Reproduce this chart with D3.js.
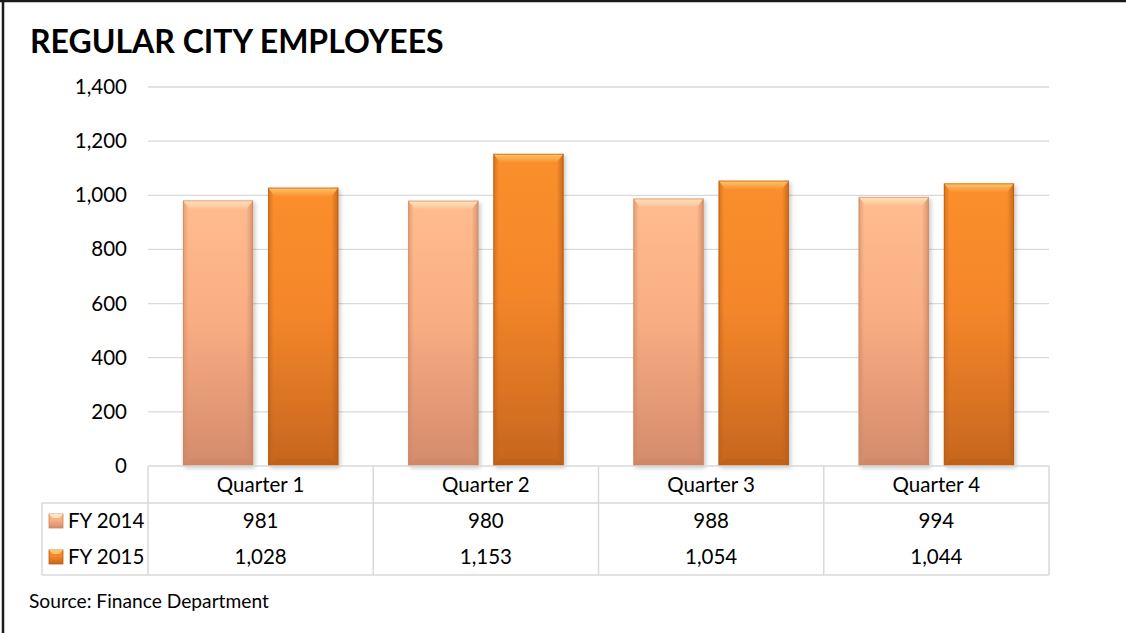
<!DOCTYPE html>
<html>
<head>
<meta charset="utf-8">
<script src="https://cdn.jsdelivr.net/npm/d3@7/dist/d3.min.js"></script>
<style>
  html, body { margin: 0; padding: 0; background: #fff; }
  svg { display: block; font-family: Lato, "Open Sans", sans-serif; }
</style>
</head>
<body>
<svg id="chart" width="1126" height="633"></svg>
<script>
// Regular city employees by quarter, FY 2014 vs FY 2015
const quarters = ["Quarter 1", "Quarter 2", "Quarter 3", "Quarter 4"];
const seriesNames = ["FY 2014", "FY 2015"];
const fy2014 = [981, 980, 988, 994];
const fy2015 = [1028, 1153, 1054, 1044];
const yTicks = [0, 200, 400, 600, 800, 1000, 1200, 1400];

const seriesValues = [fy2014, fy2015];
const palette = [
  { top: "#ffbc8e", mid: "#f9ad82", bottom: "#d48b6c", edge: "#c98563", bevel: "#ffe6c2" },
  { top: "#fb8f2c", mid: "#f4862a", bottom: "#c6661e", edge: "#b65c18", bevel: "#ffc66e" }
];

const svg = d3.select("#chart");
const W = 1126, H = 633;
const plot = { left: 148, right: 1049, top: 87, bottom: 466 };
const legendLeft = 42;
const rowH = 36;
const fontSize = 20.5;

// Frame
svg.append("line").attr("x1", 0).attr("x2", W).attr("y1", 1).attr("y2", 1)
  .attr("stroke", "#1a1a1a").attr("stroke-width", 2.5);
svg.append("line").attr("x1", 3).attr("x2", 3).attr("y1", 0).attr("y2", H)
  .attr("stroke", "#1a1a1a").attr("stroke-width", 2.5);

// Title
svg.append("text").attr("x", 30).attr("y", 53)
  .attr("font-size", 32).attr("font-weight", 700).attr("fill", "#000")
  .text("REGULAR CITY EMPLOYEES");

const x = d3.scaleBand().domain(quarters).range([plot.left, plot.right]).padding(0);
const y = d3.scaleLinear().domain([0, 1400]).range([plot.bottom, plot.top]);

// Gridlines
svg.append("g").selectAll("line").data(yTicks.filter(d => d > 0)).join("line")
  .attr("x1", plot.left).attr("x2", plot.right)
  .attr("y1", d => y(d)).attr("y2", d => y(d))
  .attr("stroke", "#d9d9d9").attr("stroke-width", 1.3);

// Y axis labels
const yAxis = d3.axisLeft(y).tickValues(yTicks).tickSize(0).tickPadding(0)
  .tickFormat(d3.format(","));
const gy = svg.append("g").attr("transform", `translate(${127},0)`).call(yAxis);
gy.select(".domain").remove();
gy.selectAll("text").attr("font-size", fontSize).attr("fill", "#000")
  .attr("font-family", "Lato, 'Open Sans', sans-serif");

// Gradients
const defs = svg.append("defs");
palette.forEach((p, i) => {
  const g = defs.append("linearGradient").attr("id", "grad" + i)
    .attr("x1", 0).attr("x2", 0).attr("y1", 0).attr("y2", 1);
  g.append("stop").attr("offset", "0%").attr("stop-color", p.top);
  g.append("stop").attr("offset", "45%").attr("stop-color", p.mid);
  g.append("stop").attr("offset", "100%").attr("stop-color", p.bottom);
  const s = defs.append("linearGradient").attr("id", "side" + i)
    .attr("x1", 0).attr("x2", 1).attr("y1", 0).attr("y2", 0);
  s.append("stop").attr("offset", "0%").attr("stop-color", p.edge).attr("stop-opacity", 0.55);
  s.append("stop").attr("offset", "8%").attr("stop-color", p.edge).attr("stop-opacity", 0);
  s.append("stop").attr("offset", "90%").attr("stop-color", p.edge).attr("stop-opacity", 0);
  s.append("stop").attr("offset", "100%").attr("stop-color", p.edge).attr("stop-opacity", 0.75);
  const b = defs.append("linearGradient").attr("id", "bevel" + i)
    .attr("x1", 0).attr("x2", 0).attr("y1", 0).attr("y2", 1);
  b.append("stop").attr("offset", "0%").attr("stop-color", p.bevel);
  b.append("stop").attr("offset", "100%").attr("stop-color", p.top);
});
const sh = defs.append("filter").attr("id", "shadow")
  .attr("x", "-10%").attr("y", "-5%").attr("width", "125%").attr("height", "112%");
sh.append("feDropShadow").attr("dx", 2).attr("dy", 2).attr("stdDeviation", 2)
  .attr("flood-color", "#000").attr("flood-opacity", 0.22);

// Bars: two per quarter, 70px wide with a 15px gap
const inner = d3.scaleBand().domain(seriesNames).range([0, x.bandwidth()])
  .paddingInner(0.176).paddingOuter(0.41);

const barData = [];
quarters.forEach((q, qi) => {
  seriesNames.forEach((s, si) => {
    barData.push({ q, s, si, v: seriesValues[si][qi] });
  });
});

const bars = svg.append("g").selectAll("g").data(barData).join("g")
  .attr("transform", d => `translate(${x(d.q) + inner(d.s)},0)`);

bars.each(function (d) {
  const g = d3.select(this);
  const w = inner.bandwidth();
  const top = y(d.v), bot = y(0);
  const bv = 7;
  g.append("rect").attr("x", 0).attr("y", top).attr("width", w).attr("height", bot - top)
    .attr("fill", `url(#grad${d.si})`).attr("filter", "url(#shadow)");
  g.append("rect").attr("x", 0).attr("y", top).attr("width", w).attr("height", bot - top)
    .attr("fill", `url(#side${d.si})`);
  // top bevel
  g.append("path")
    .attr("d", `M0,${top} L${w},${top} L${w - bv},${top + bv + 2} L${bv},${top + bv + 2} Z`)
    .attr("fill", `url(#bevel${d.si})`);
  // bottom bevel
  g.append("path")
    .attr("d", `M0,${bot} L${w},${bot} L${w - bv},${bot - bv} L${bv},${bot - bv} Z`)
    .attr("fill", palette[d.si].edge).attr("opacity", 0.45);
  g.append("rect").attr("x", 0.5).attr("y", top + 0.5).attr("width", w - 1).attr("height", bot - top - 1)
    .attr("fill", "none").attr("stroke", palette[d.si].edge).attr("stroke-opacity", 0.6);
});

// Data table
const tbl = svg.append("g");
const tableTop = plot.bottom, headerBottom = plot.bottom + 37;
const tableBottom = headerBottom + rowH * 2;
const lineColor = "#d9d9d9";
const hl = (x1, x2, yy) => tbl.append("line").attr("x1", x1).attr("x2", x2)
  .attr("y1", yy).attr("y2", yy).attr("stroke", lineColor).attr("stroke-width", 1.5);
const vl = (xx, y1, y2) => tbl.append("line").attr("x1", xx).attr("x2", xx)
  .attr("y1", y1).attr("y2", y2).attr("stroke", lineColor).attr("stroke-width", 1.5);

hl(plot.left, plot.right, tableTop);
hl(legendLeft, plot.right, headerBottom);
hl(legendLeft, plot.right, tableBottom);
vl(legendLeft, headerBottom, tableBottom);
quarters.forEach(q => vl(x(q), tableTop, tableBottom));
vl(plot.right, tableTop, tableBottom);

tbl.selectAll("text.cat").data(quarters).join("text")
  .attr("x", d => x(d) + x.bandwidth() / 2).attr("y", tableTop + 26)
  .attr("text-anchor", "middle").attr("font-size", fontSize).text(d => d);

const fmt = d3.format(",");
seriesNames.forEach((s, si) => {
  const cy = headerBottom + rowH * si + 25;
  tbl.selectAll(null).data(seriesValues[si]).join("text")
    .attr("x", (d, i) => x(quarters[i]) + x.bandwidth() / 2).attr("y", cy)
    .attr("text-anchor", "middle").attr("font-size", fontSize).text(d => fmt(d));
  // legend key
  const ky = cy - 14;
  tbl.append("rect").attr("x", 49).attr("y", ky).attr("width", 14).attr("height", 14)
    .attr("fill", `url(#grad${si})`).attr("stroke", palette[si].edge).attr("stroke-width", 0.8);
  tbl.append("path").attr("d", `M49,${ky} L63,${ky} L59,${ky + 4} L53,${ky + 4} Z`)
    .attr("fill", palette[si].bevel);
  tbl.append("text").attr("x", 68).attr("y", cy).attr("font-size", fontSize).text(s);
});

// Source note
svg.append("text").attr("x", 29).attr("y", 608).attr("font-size", 19.2)
  .text("Source: Finance Department");
</script>
</body>
</html>
